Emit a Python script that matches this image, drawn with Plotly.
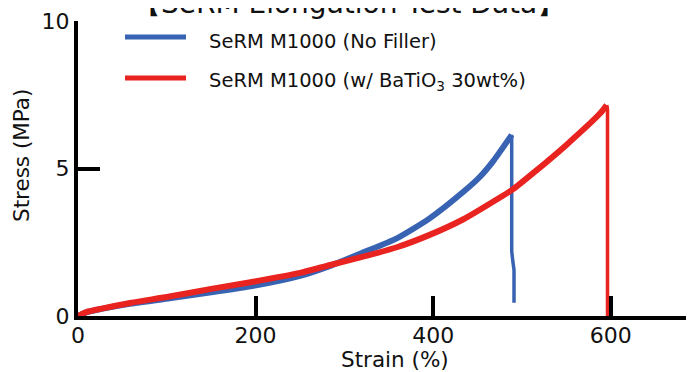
import plotly.graph_objects as go

# ---- data ----
blue_strain = [0, 10, 28, 60, 103, 150, 199, 250, 284, 321, 359, 396, 434, 452.7, 467.6, 488.4]
blue_stress = [0, 0.13, 0.25, 0.42, 0.6, 0.8, 1.03, 1.36, 1.7, 2.15, 2.63, 3.31, 4.21, 4.72, 5.25, 6.14]
blue_break_strain = [488.4, 488.4, 489.5, 491, 491]
blue_break_stress = [6.14, 2.2, 1.9, 1.56, 0.45]

red_strain = [0, 10, 28, 60, 103, 150, 199, 250, 284, 321, 359, 396, 434, 471.5, 490, 512.8, 550, 588, 595.4]
red_stress = [0, 0.14, 0.26, 0.45, 0.66, 0.92, 1.17, 1.46, 1.73, 2.01, 2.33, 2.75, 3.28, 3.95, 4.3, 4.85, 5.8, 6.87, 7.15]
red_break_strain = [595.4, 596.3, 596.3]
red_break_stress = [7.15, 7.0, 0]

series_names = ["SeRM M1000 (No Filler)", "SeRM M1000 (w/ BaTiO<sub>3</sub> 30wt%)"]
x_ticks = [0, 200, 400, 600]
y_ticks = [0, 5, 10]

BLUE = "#3863B2"
RED = "#E82320"
TXT = "#111111"
FONT = "DejaVu Sans"

fig = go.Figure()
fig.add_trace(go.Scatter(x=blue_strain, y=blue_stress, mode="lines",
                         line=dict(color=BLUE, width=6, shape="spline", smoothing=0.6), showlegend=False))
fig.add_trace(go.Scatter(x=blue_break_strain, y=blue_break_stress, mode="lines",
                         line=dict(color=BLUE, width=3.5), showlegend=False))
fig.add_trace(go.Scatter(x=red_strain, y=red_stress, mode="lines",
                         line=dict(color=RED, width=6, shape="spline", smoothing=0.6), showlegend=False))
fig.add_trace(go.Scatter(x=red_break_strain, y=red_break_stress, mode="lines",
                         line=dict(color=RED, width=3.5), showlegend=False))

# the page body has an 8px margin: figure origin sits at page (8, 8)
OFF = 8
W, H = 694 - OFF, 372 - OFF
# plot area in page pixels: x 78..694, y 21..316
L, R, T, B = 78 - OFF, 0, 21 - OFF, H - (316 - OFF)
pw = W - L - R
ph = H - T - B

def px_x(p):
    return (p - OFF - L) / pw

def px_y(p):
    return (H - B - (p - OFF)) / ph

# manual legend
legend_colors = [BLUE, RED]
legend_y = [37, 78]
shapes = []
annotations = []
for name, col, ly in zip(series_names, legend_colors, legend_y):
    shapes.append(dict(type="line", xref="paper", yref="paper",
                       x0=px_x(125), x1=px_x(186), y0=px_y(ly), y1=px_y(ly),
                       line=dict(color=col, width=5)))
    annotations.append(dict(text=name, xref="paper", yref="paper",
                            x=px_x(207), y=px_y(ly + 4), xanchor="left", yanchor="middle",
                            showarrow=False, font=dict(family=FONT, size=19.5, color=TXT)))

# chart title (partly cut off at the top, as in the reference)
annotations.append(dict(text="【SeRM Elongation Test Data】", xref="paper", yref="paper",
                        x=px_x(349), y=px_y(3), xanchor="center", yanchor="middle",
                        showarrow=False, font=dict(family=FONT, size=28, color=TXT)))
# axis titles
annotations.append(dict(text="Strain (%)", xref="paper", yref="paper",
                        x=px_x(395), y=px_y(359), xanchor="center", yanchor="middle",
                        showarrow=False, font=dict(family=FONT, size=21.5, color=TXT)))
annotations.append(dict(text="Stress (MPa)", xref="paper", yref="paper",
                        x=px_x(21), y=px_y(156), xanchor="center", yanchor="middle", textangle=-90,
                        showarrow=False, font=dict(family=FONT, size=21.5, color=TXT)))

fig.update_layout(
    width=W, height=H,
    margin=dict(l=L, r=R, t=T, b=B, autoexpand=False),
    paper_bgcolor="white", plot_bgcolor="white",
    font=dict(family=FONT, color=TXT),
    shapes=shapes,
    annotations=annotations,
    xaxis=dict(range=[0, pw / 0.888], tickvals=x_ticks, ticktext=[str(v) for v in x_ticks],
               ticks="inside", ticklen=20, tickwidth=4, tickcolor="black", automargin=False,
               ticklabelstandoff=-3,
               showline=True, linewidth=4, linecolor="black", showgrid=False, zeroline=False,
               tickfont=dict(family=FONT, size=22, color=TXT)),
    yaxis=dict(range=[0, 10], tickvals=y_ticks, ticktext=[str(v) for v in y_ticks],
               ticks="inside", ticklen=22, tickwidth=4, tickcolor="black", automargin=False,
               showline=True, linewidth=4, linecolor="black", showgrid=False, zeroline=False,
               tickfont=dict(family=FONT, size=22, color=TXT)),
)

fig.write_html("out.html")
